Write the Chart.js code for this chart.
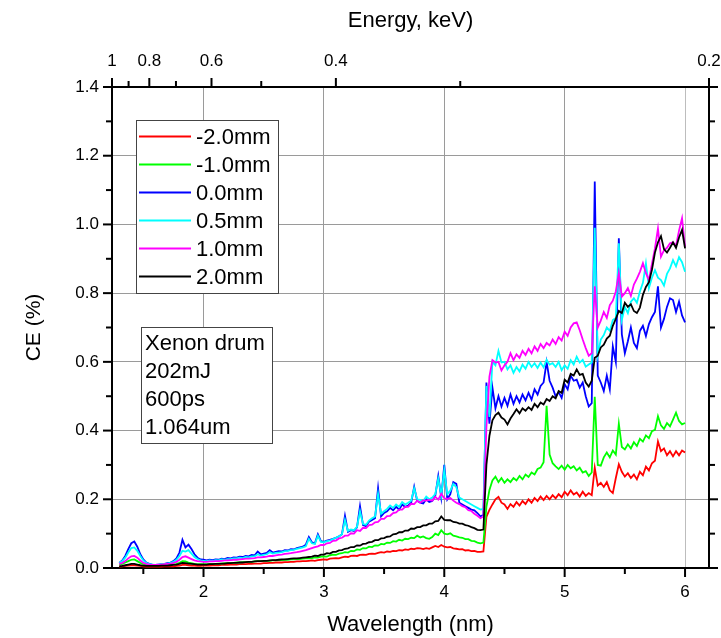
<!DOCTYPE html>
<html>
<head>
<meta charset="utf-8">
<script src="https://cdn.jsdelivr.net/npm/chart.js@4.4.1/dist/chart.umd.min.js"></script>
<style>
html,body{margin:0;padding:0;background:#fff;}
#wrap{width:721px;height:638px;position:relative;}
</style>
</head>
<body>
<div id="wrap"><canvas id="c"></canvas></div>
<script>
// ---- data ----
const wavelength = [
1.300,1.325,1.350,1.375,1.400,1.425,1.450,1.475,
1.500,1.525,1.550,1.575,1.600,1.625,1.650,1.675,
1.700,1.725,1.750,1.775,1.800,1.825,1.850,1.875,
1.900,1.925,1.950,1.975,2.000,2.025,2.050,2.075,
2.100,2.125,2.150,2.175,2.200,2.225,2.250,2.275,
2.300,2.325,2.350,2.375,2.400,2.425,2.450,2.475,
2.500,2.525,2.550,2.575,2.600,2.625,2.650,2.675,
2.700,2.725,2.750,2.775,2.800,2.825,2.850,2.875,
2.900,2.925,2.950,2.975,3.000,3.025,3.050,3.075,
3.100,3.125,3.150,3.175,3.200,3.225,3.250,3.275,
3.300,3.325,3.350,3.375,3.400,3.425,3.450,3.475,
3.500,3.525,3.550,3.575,3.600,3.625,3.650,3.675,
3.700,3.725,3.750,3.775,3.800,3.825,3.850,3.875,
3.900,3.925,3.950,3.975,4.000,4.025,4.050,4.075,
4.100,4.125,4.150,4.175,4.200,4.225,4.250,4.275,
4.300,4.325,4.350,4.375,4.400,4.425,4.450,4.475,
4.500,4.525,4.550,4.575,4.600,4.625,4.650,4.675,
4.700,4.725,4.750,4.775,4.800,4.825,4.850,4.875,
4.900,4.925,4.950,4.975,5.000,5.025,5.050,5.075,
5.100,5.125,5.150,5.175,5.200,5.225,5.250,5.275,
5.300,5.325,5.350,5.375,5.400,5.425,5.450,5.475,
5.500,5.525,5.550,5.575,5.600,5.625,5.650,5.675,
5.700,5.725,5.750,5.775,5.800,5.825,5.850,5.875,
5.900,5.925,5.950,5.975,6.000];

const ceMinus20 = [
0.004,0.005,0.006,0.007,0.008,0.008,0.007,0.006,
0.005,0.004,0.004,0.004,0.004,0.004,0.004,0.005,
0.005,0.005,0.005,0.006,0.007,0.009,0.009,0.008,
0.007,0.007,0.006,0.006,0.007,0.007,0.007,0.008,
0.008,0.008,0.009,0.009,0.009,0.010,0.010,0.010,
0.011,0.011,0.011,0.012,0.012,0.013,0.013,0.013,
0.014,0.014,0.015,0.015,0.016,0.016,0.016,0.017,
0.017,0.018,0.018,0.019,0.019,0.020,0.020,0.021,
0.022,0.021,0.023,0.024,0.025,0.024,0.027,0.028,
0.029,0.028,0.031,0.033,0.032,0.035,0.036,0.035,
0.038,0.039,0.038,0.041,0.042,0.041,0.044,0.046,
0.045,0.048,0.047,0.050,0.049,0.052,0.051,0.054,
0.053,0.056,0.055,0.058,0.057,0.055,0.058,0.056,
0.060,0.064,0.061,0.067,0.062,0.060,0.061,0.057,
0.056,0.054,0.055,0.051,0.052,0.049,0.050,0.047,
0.047,0.048,0.149,0.169,0.185,0.200,0.207,0.190,
0.185,0.172,0.186,0.178,0.192,0.182,0.195,0.186,
0.200,0.190,0.204,0.195,0.208,0.198,0.210,0.200,
0.212,0.203,0.215,0.206,0.222,0.212,0.226,0.214,
0.220,0.208,0.222,0.210,0.218,0.212,0.292,0.240,
0.248,0.236,0.250,0.226,0.218,0.262,0.302,0.280,
0.266,0.276,0.262,0.272,0.258,0.280,0.270,0.295,
0.284,0.305,0.312,0.368,0.340,0.348,0.328,0.340,
0.325,0.340,0.328,0.342,0.336];

const ceMinus10 = [
0.010,0.012,0.016,0.020,0.024,0.025,0.020,0.015,
0.012,0.010,0.009,0.008,0.008,0.008,0.009,0.009,
0.009,0.010,0.011,0.012,0.015,0.020,0.019,0.016,
0.014,0.012,0.011,0.011,0.011,0.011,0.012,0.012,
0.012,0.013,0.013,0.014,0.014,0.015,0.015,0.016,
0.016,0.017,0.017,0.018,0.018,0.019,0.020,0.020,
0.020,0.021,0.021,0.022,0.022,0.023,0.023,0.024,
0.024,0.025,0.025,0.026,0.026,0.027,0.028,0.028,
0.029,0.031,0.030,0.033,0.034,0.033,0.037,0.039,
0.038,0.042,0.043,0.046,0.045,0.050,0.049,0.054,
0.053,0.058,0.057,0.062,0.061,0.066,0.065,0.070,
0.069,0.074,0.073,0.078,0.077,0.082,0.080,0.085,
0.084,0.088,0.087,0.094,0.089,0.092,0.087,0.085,
0.090,0.100,0.096,0.110,0.100,0.098,0.101,0.094,
0.092,0.089,0.088,0.084,0.084,0.079,0.078,0.074,
0.072,0.074,0.178,0.227,0.255,0.266,0.250,0.262,
0.248,0.258,0.250,0.262,0.255,0.268,0.258,0.272,
0.265,0.278,0.272,0.288,0.292,0.308,0.472,0.330,
0.305,0.296,0.288,0.298,0.286,0.300,0.290,0.296,
0.284,0.292,0.278,0.282,0.268,0.278,0.498,0.300,
0.298,0.322,0.336,0.322,0.342,0.330,0.420,0.352,
0.345,0.360,0.348,0.366,0.355,0.376,0.368,0.386,
0.378,0.398,0.402,0.442,0.415,0.405,0.422,0.412,
0.432,0.452,0.428,0.418,0.422];

const ce00 = [
0.015,0.022,0.035,0.055,0.072,0.077,0.062,0.040,
0.025,0.016,0.012,0.010,0.009,0.010,0.011,0.012,
0.014,0.016,0.020,0.028,0.045,0.082,0.060,0.068,
0.055,0.040,0.030,0.025,0.024,0.022,0.024,0.023,
0.025,0.024,0.027,0.026,0.029,0.028,0.031,0.030,
0.033,0.032,0.035,0.034,0.038,0.037,0.048,0.040,
0.042,0.044,0.052,0.045,0.047,0.049,0.048,0.052,
0.051,0.055,0.054,0.058,0.060,0.062,0.068,0.090,
0.075,0.072,0.098,0.078,0.076,0.080,0.082,0.085,
0.088,0.092,0.098,0.152,0.105,0.110,0.108,0.118,
0.180,0.125,0.122,0.135,0.140,0.145,0.232,0.150,
0.160,0.165,0.175,0.168,0.178,0.170,0.185,0.178,
0.182,0.190,0.236,0.195,0.190,0.188,0.200,0.192,
0.195,0.210,0.268,0.205,0.300,0.200,0.215,0.250,
0.245,0.190,0.185,0.180,0.175,0.170,0.168,0.160,
0.150,0.155,0.540,0.420,0.525,0.465,0.500,0.470,
0.495,0.472,0.505,0.478,0.500,0.482,0.505,0.488,
0.510,0.490,0.520,0.505,0.530,0.540,0.600,0.545,
0.525,0.500,0.512,0.495,0.535,0.520,0.560,0.545,
0.548,0.525,0.540,0.500,0.470,0.480,1.125,0.560,
0.540,0.515,0.560,0.520,0.645,0.600,0.960,0.680,
0.625,0.660,0.700,0.655,0.640,0.690,0.705,0.675,
0.710,0.730,0.745,0.820,0.700,0.725,0.760,0.785,
0.780,0.745,0.775,0.735,0.715];

const ce05 = [
0.015,0.020,0.030,0.045,0.058,0.060,0.050,0.035,
0.022,0.015,0.011,0.010,0.009,0.010,0.011,0.012,
0.013,0.015,0.018,0.024,0.035,0.050,0.048,0.052,
0.042,0.032,0.026,0.022,0.021,0.020,0.022,0.021,
0.023,0.022,0.025,0.024,0.026,0.026,0.028,0.028,
0.030,0.029,0.032,0.031,0.034,0.034,0.040,0.036,
0.038,0.040,0.046,0.042,0.044,0.045,0.046,0.049,
0.050,0.052,0.053,0.056,0.058,0.060,0.063,0.085,
0.072,0.070,0.094,0.076,0.075,0.078,0.080,0.084,
0.088,0.092,0.098,0.140,0.108,0.112,0.110,0.120,
0.165,0.128,0.126,0.138,0.145,0.150,0.215,0.158,
0.165,0.172,0.182,0.175,0.185,0.178,0.192,0.185,
0.190,0.196,0.232,0.200,0.198,0.195,0.208,0.200,
0.205,0.215,0.260,0.212,0.285,0.215,0.225,0.245,
0.235,0.205,0.200,0.195,0.190,0.185,0.180,0.175,
0.170,0.172,0.530,0.440,0.600,0.590,0.632,0.598,
0.600,0.578,0.590,0.568,0.585,0.572,0.592,0.580,
0.600,0.585,0.596,0.582,0.598,0.584,0.606,0.592,
0.596,0.585,0.600,0.576,0.590,0.580,0.605,0.592,
0.615,0.598,0.606,0.586,0.592,0.598,0.990,0.620,
0.665,0.678,0.700,0.690,0.722,0.728,0.945,0.722,
0.760,0.742,0.775,0.785,0.772,0.805,0.830,0.887,
0.815,0.845,0.867,0.845,0.838,0.822,0.856,0.872,
0.896,0.878,0.905,0.890,0.862];

const ce10 = [
0.012,0.015,0.020,0.028,0.034,0.035,0.030,0.022,
0.015,0.012,0.010,0.009,0.009,0.010,0.010,0.011,
0.012,0.013,0.015,0.018,0.024,0.032,0.034,0.030,
0.026,0.022,0.020,0.019,0.018,0.018,0.019,0.019,
0.020,0.020,0.021,0.022,0.022,0.023,0.024,0.024,
0.025,0.026,0.027,0.027,0.028,0.029,0.031,0.031,
0.032,0.033,0.035,0.035,0.037,0.038,0.039,0.041,
0.042,0.043,0.045,0.046,0.048,0.050,0.052,0.055,
0.058,0.061,0.063,0.067,0.067,0.072,0.073,0.079,
0.080,0.086,0.088,0.094,0.094,0.101,0.100,0.110,
0.108,0.117,0.116,0.125,0.126,0.133,0.134,0.143,
0.143,0.151,0.152,0.160,0.162,0.170,0.170,0.178,
0.178,0.187,0.186,0.196,0.190,0.197,0.196,0.198,
0.196,0.207,0.199,0.216,0.203,0.201,0.204,0.196,
0.190,0.186,0.180,0.177,0.168,0.166,0.158,0.152,
0.145,0.150,0.410,0.557,0.605,0.598,0.600,0.575,
0.590,0.600,0.625,0.605,0.622,0.612,0.632,0.620,
0.638,0.625,0.645,0.632,0.652,0.640,0.655,0.648,
0.665,0.652,0.672,0.662,0.688,0.676,0.700,0.712,
0.715,0.692,0.665,0.640,0.618,0.625,0.820,0.700,
0.720,0.745,0.728,0.765,0.778,0.805,0.858,0.790,
0.800,0.815,0.792,0.825,0.842,0.862,0.887,0.858,
0.838,0.885,0.930,0.988,0.906,0.925,0.932,0.945,
0.948,0.938,0.982,1.018,0.935];

const ce20 = [
0.005,0.006,0.008,0.010,0.012,0.012,0.010,0.008,
0.007,0.006,0.006,0.006,0.006,0.006,0.007,0.007,
0.007,0.008,0.009,0.010,0.012,0.015,0.014,0.013,
0.012,0.011,0.010,0.010,0.010,0.010,0.011,0.011,
0.012,0.012,0.013,0.013,0.014,0.014,0.015,0.015,
0.016,0.016,0.017,0.018,0.018,0.019,0.020,0.020,
0.021,0.021,0.022,0.023,0.023,0.024,0.025,0.025,
0.026,0.027,0.028,0.028,0.029,0.030,0.031,0.032,
0.033,0.036,0.035,0.039,0.039,0.043,0.042,0.047,
0.047,0.051,0.052,0.056,0.057,0.061,0.061,0.066,
0.065,0.070,0.071,0.075,0.076,0.081,0.081,0.086,
0.087,0.091,0.092,0.098,0.099,0.104,0.104,0.109,
0.109,0.115,0.114,0.119,0.119,0.124,0.124,0.129,
0.129,0.136,0.137,0.150,0.140,0.139,0.139,0.134,
0.133,0.129,0.129,0.125,0.123,0.119,0.116,0.111,
0.110,0.112,0.300,0.385,0.430,0.445,0.452,0.438,
0.432,0.418,0.435,0.448,0.462,0.450,0.465,0.458,
0.468,0.460,0.478,0.468,0.482,0.476,0.492,0.486,
0.500,0.494,0.515,0.510,0.548,0.540,0.565,0.560,
0.578,0.562,0.565,0.540,0.528,0.545,0.612,0.618,
0.642,0.650,0.668,0.676,0.705,0.725,0.748,0.742,
0.772,0.760,0.768,0.748,0.742,0.758,0.795,0.818,
0.832,0.868,0.918,0.948,0.966,0.928,0.918,0.932,
0.948,0.932,0.962,0.984,0.930];

const seriesLabels = ['-2.0mm','-1.0mm','0.0mm','0.5mm','1.0mm','2.0mm'];
const seriesColors = ['#ff0000','#00ff00','#0000ff','#00ffff','#ff00ff','#000000'];
const seriesValues = [ceMinus20, ceMinus10, ce00, ce05, ce10, ce20];

const xMajorTicks = [2,3,4,5,6];
const xMinorTicks = [1.5,2.5,3.5,4.5,5.5];
const yMajorTicks = [0,0.2,0.4,0.6,0.8,1.0,1.2,1.4];
const yMinorTicks = [0.1,0.3,0.5,0.7,0.9,1.1,1.3];
const energyMajorTicks = [1,0.8,0.6,0.4,0.2];
const energyMinorTicks = [0.9,0.7,0.5,0.3];
const noteLines = ['Xenon drum','202mJ','600ps','1.064um'];

const HC = 1.2398; // keV*nm
const xMin = HC / 1.0, xMax = HC / 0.2;
const FONT = "'Liberation Sans', Arial, sans-serif";

const datasets = seriesValues.map((vals, k) => ({
  label: seriesLabels[k],
  data: wavelength.map((w, i) => ({x: w, y: vals[i]})),
  borderColor: seriesColors[k],
  backgroundColor: seriesColors[k],
  borderWidth: 1.8,
  pointRadius: 0,
  tension: 0,
  fill: false,
  order: seriesValues.length - k
}));

const zeroPad = s => { s.paddingLeft = 0; s.paddingRight = 0; s.paddingTop = 0; s.paddingBottom = 0; };

const overlayPlugin = {
  id: 'overlay',
  afterDraw(chart) {
    const {ctx, chartArea: ca, scales} = chart;
    const X = scales.x, Y = scales.y;
    ctx.save();
    ctx.strokeStyle = '#000';
    ctx.lineWidth = 2;
    const seg = (x1,y1,x2,y2) => { ctx.beginPath(); ctx.moveTo(x1,y1); ctx.lineTo(x2,y2); ctx.stroke(); };
    xMajorTicks.forEach(v => { const p = X.getPixelForValue(v); seg(p, ca.bottom, p, ca.bottom + 9); });
    xMinorTicks.forEach(v => { const p = X.getPixelForValue(v); seg(p, ca.bottom, p, ca.bottom + 6); });
    energyMajorTicks.forEach(e => { const p = X.getPixelForValue(HC / e); seg(p, ca.top, p, ca.top - 9); });
    energyMinorTicks.forEach(e => { const p = X.getPixelForValue(HC / e); seg(p, ca.top, p, ca.top - 6); });
    yMajorTicks.forEach(v => { const p = Y.getPixelForValue(v); seg(ca.left, p, ca.left - 9, p); seg(ca.right, p, ca.right + 9, p); });
    yMinorTicks.forEach(v => { const p = Y.getPixelForValue(v); seg(ca.left, p, ca.left - 6, p); seg(ca.right, p, ca.right + 6, p); });

    // legend box
    const lx = ca.left + 24, ly = ca.top + 33, lw = 142, lh = 173;
    ctx.fillStyle = '#fff';
    ctx.fillRect(lx, ly, lw, lh);
    ctx.lineWidth = 1;
    ctx.strokeStyle = '#444';
    ctx.strokeRect(lx + 0.5, ly + 0.5, lw, lh);
    ctx.font = '22px ' + FONT;
    ctx.textBaseline = 'middle';
    ctx.textAlign = 'left';
    chart.data.datasets.forEach((ds, i) => {
      const yy = ly + 16.5 + i * 28;
      ctx.strokeStyle = ds.borderColor;
      ctx.lineWidth = 1.8;
      seg(lx + 3, yy, lx + 55, yy);
      ctx.fillStyle = '#000';
      ctx.fillText(ds.label, lx + 60, yy + 1);
    });

    // note box
    const nx = ca.left + 29, ny = ca.top + 240, nw = 131, nh = 116;
    ctx.fillStyle = '#fff';
    ctx.fillRect(nx, ny, nw, nh);
    ctx.lineWidth = 1;
    ctx.strokeStyle = '#444';
    ctx.strokeRect(nx + 0.5, ny + 0.5, nw, nh);
    ctx.fillStyle = '#000';
    noteLines.forEach((t, i) => ctx.fillText(t, nx + 4, ny + 17 + i * 28));
    ctx.restore();
  }
};

new Chart(document.getElementById('c'), {
  type: 'line',
  data: { datasets },
  plugins: [overlayPlugin],
  options: {
    responsive: true,
    maintainAspectRatio: false,
    animation: false,
    layout: { padding: 0 },
    plugins: { legend: { display: false }, tooltip: { enabled: false } },
    scales: {
      x: {
        type: 'linear', position: 'bottom', min: xMin, max: xMax,
        afterBuildTicks: s => { s.ticks = xMajorTicks.map(v => ({value: v})); },
        afterFit: s => { s.height = 70; zeroPad(s); },
        grid: { color: ctx => (ctx.tick && ctx.tick.value === 6) ? '#bdbdbd' : '#9a9a9a', lineWidth: 1, drawTicks: false },
        border: { display: true, color: '#000', width: 2 },
        ticks: { color: '#000', font: { family: FONT, size: 17 }, padding: 14, maxRotation: 0, autoSkip: false,
                 callback: v => String(v) },
        title: { display: true, text: 'Wavelength (nm)', color: '#000', font: { family: FONT, size: 22 }, padding: { top: 0, bottom: 0 } }
      },
      x2: {
        type: 'linear', position: 'top', min: xMin, max: xMax,
        afterBuildTicks: s => { s.ticks = energyMajorTicks.map(e => ({value: HC / e})); },
        afterFit: s => { s.height = 87; zeroPad(s); },
        grid: { display: false, drawTicks: false },
        border: { display: true, color: '#000', width: 2 },
        ticks: { color: '#000', font: { family: FONT, size: 17 }, padding: 15, maxRotation: 0, autoSkip: false,
                 callback: (v, i) => String(energyMajorTicks[i]) },
        title: { display: true, text: 'Energy, keV)', color: '#000', font: { family: FONT, size: 22 }, padding: { top: 8, bottom: 0 } }
      },
      y: {
        type: 'linear', position: 'left', min: 0, max: 1.4,
        afterBuildTicks: s => { s.ticks = yMajorTicks.map(v => ({value: v})); },
        afterFit: s => { s.width = 112; zeroPad(s); },
        grid: { color: '#9a9a9a', lineWidth: 1, drawTicks: false },
        border: { display: true, color: '#000', width: 2 },
        ticks: { color: '#000', font: { family: FONT, size: 17 }, padding: 13,
                 callback: v => Number(v).toFixed(1) },
        title: { display: true, text: 'CE (%)', color: '#000', font: { family: FONT, size: 21 }, padding: { top: 22, bottom: 0 } }
      },
      y2: {
        type: 'linear', position: 'right', min: 0, max: 1.4,
        afterFit: s => { s.width = 12; zeroPad(s); },
        grid: { display: false, drawTicks: false },
        border: { display: true, color: '#000', width: 2 },
        ticks: { display: false }
      }
    }
  }
});
</script>
</body>
</html>
